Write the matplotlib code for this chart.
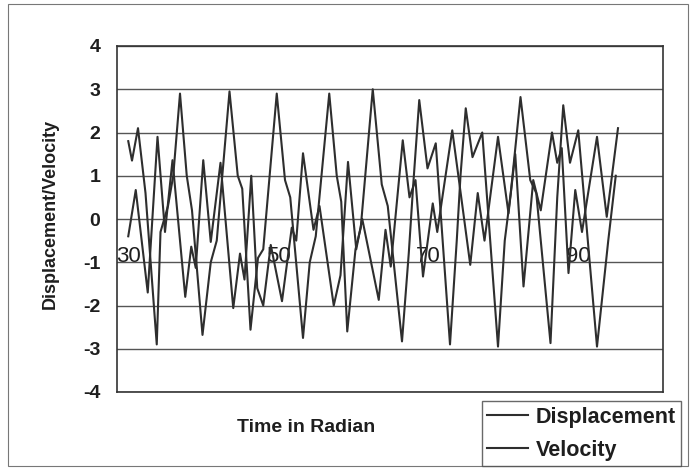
import matplotlib
matplotlib.use("Agg")
import matplotlib.pyplot as plt
from matplotlib.patches import Rectangle

plt.rcParams['font.family'] = ['Liberation Sans', 'DejaVu Sans']

# Displacement (extrema and shoulders)
disp_t = [30.0, 30.5, 31.3, 32.3, 33.8, 34.3, 35.3, 36.0, 36.9, 37.8, 38.5, 39.9, 41.0, 41.8,
          43.5, 44.6, 45.2, 46.3, 47.3, 48.0, 49.8, 50.9, 51.6, 53.3, 54.2, 55.0, 56.8,
          57.8, 58.4, 59.2, 60.3, 61.0, 62.6, 63.8, 64.6, 66.5, 67.4, 68.0, 68.8, 69.9,
          71.0, 72.9, 73.8, 74.3, 75.0, 75.9, 77.2, 79.3, 80.2, 81.0, 82.3, 83.6, 84.4,
          86.3, 87.2, 88.0, 88.9, 90.0, 92.5, 94.0, 95.0]
disp_v = [1.8, 1.35, 2.1, 0.6, -2.9, -0.3, 0.3, 1.0, 2.9, 1.0, 0.2, -2.68, -1.0, -0.5,
          2.95, 1.0, 0.7, -2.56, -0.9, -0.7, 2.9, 0.9, 0.5, -2.75, -1.0, -0.4, 2.9,
          1.0, 0.4, -2.6, -0.7, -0.2, 3.0, 0.8, 0.3, -2.83, -0.8, 0.8, 2.75, 1.17,
          1.75, -2.9, -0.5, 1.0, 2.56, 1.43, 2.0, -2.95, -0.5, 0.6, 2.82, 0.9, 0.6,
          -2.87, 0.5, 2.63, 1.3, 2.05, -2.95, -0.5, 1.0]

# Velocity
vel_t = [30.0, 31.0, 32.6, 33.9, 34.9, 35.9, 37.6, 38.4, 39.0, 40.0, 41.0, 42.3, 44.0,
         44.9, 45.5, 46.4, 47.2, 48.0, 49.0, 50.5, 51.8, 52.4, 53.3, 54.7, 55.5, 57.4,
         58.3, 59.3, 60.4, 61.2, 63.4, 64.3, 65.0, 66.6, 67.5, 68.3, 69.3, 70.6, 71.2,
         73.2, 74.4, 75.6, 76.6, 77.5, 79.3, 80.7, 81.6, 82.7, 84.0, 85.0, 86.5, 87.2,
         87.8, 88.7, 89.6, 90.5, 92.5, 93.8, 95.3]
vel_v = [-0.4, 0.67, -1.7, 1.9, -0.3, 1.36, -1.8, -0.64, -1.13, 1.36, -0.53, 1.3, -2.06,
         -0.8, -1.4, 1.0, -1.6, -2.0, -0.6, -1.9, -0.2, -0.5, 1.52, -0.25, 0.3, -2.0,
         -1.3, 1.32, -0.7, 0.0, -1.87, -0.25, -1.1, 1.82, 0.5, 0.9, -1.33, 0.36, -0.3,
         2.05, 0.5, -1.06, 0.6, -0.5, 1.9, 0.13, 1.5, -1.56, 0.9, 0.2, 2.0, 1.3,
         1.64, -1.25, 0.67, -0.3, 1.9, 0.05, 2.1]

y_ticks = [-4, -3, -2, -1, 0, 1, 2, 3, 4]
x_labels = [30, 50, 70, 90]

W, H = 695, 470
fig = plt.figure(figsize=(W / 100, H / 100), dpi=100)
fig.patch.set_facecolor('white')
fig.patches.append(Rectangle((8 / W, 4 / H), 680 / W, 462 / H, transform=fig.transFigure,
                             fill=False, edgecolor='#777777', linewidth=0.8))

ax = fig.add_axes([117 / W, (H - 392) / H, (663 - 117) / W, (392 - 46) / H])
ax.set_xlim(28.5, 101.3)
ax.set_ylim(-4, 4)

line_c = '#2e2e2e'
ax.plot(disp_t, disp_v, color=line_c, linewidth=1.5, label='Displacement')
ax.plot(vel_t, vel_v, color=line_c, linewidth=1.5, label='Velocity')

# x axis tick labels sit inside the plot (Excel style axis crossing)
ax.spines['bottom'].set_position(('data', -0.55))
ax.spines['bottom'].set_visible(False)
ax.set_xticks(x_labels)
ax.set_xticklabels([str(v) for v in x_labels], fontsize=16, color='#1e1e1e')
ax.tick_params(axis='x', length=0, pad=2)

ax.set_yticks(y_ticks)
ax.set_yticklabels([str(v) for v in y_ticks], fontsize=14, fontweight='bold', color='#1e1e1e')
ax.yaxis.grid(True, color='#555555', linewidth=1.0)
ax.set_axisbelow(True)
ax.tick_params(axis='y', length=0, pad=12)

for s in ['top', 'right', 'left']:
    ax.spines[s].set_color('#333333')
    ax.spines[s].set_linewidth(1.2)
ax.plot([0, 1], [0, 0], transform=ax.transAxes, color='#333333', linewidth=1.2, clip_on=False)

fig.text(306 / W, 1 - 428 / H, 'Time in Radian', fontsize=14, fontweight='bold',
         ha='center', va='center', color='#1e1e1e')
fig.text(50 / W, 1 - 214 / H, 'Displacement/Velocity', fontsize=13, fontweight='bold',
         rotation=90, ha='center', va='center', color='#1e1e1e')

leg = fig.legend(loc='lower left', bbox_to_anchor=(482 / W, 4 / H),
                 frameon=True, fancybox=False,
                 prop={'weight': 'bold', 'size': 15.5}, handlelength=1.9,
                 borderpad=0.25, labelspacing=0.55, handletextpad=0.35, borderaxespad=0)
leg.get_frame().set_edgecolor('#444444')
leg.get_frame().set_linewidth(1.0)
for t in leg.get_texts():
    t.set_color('#1e1e1e')

fig.savefig('out.png', dpi=100)
